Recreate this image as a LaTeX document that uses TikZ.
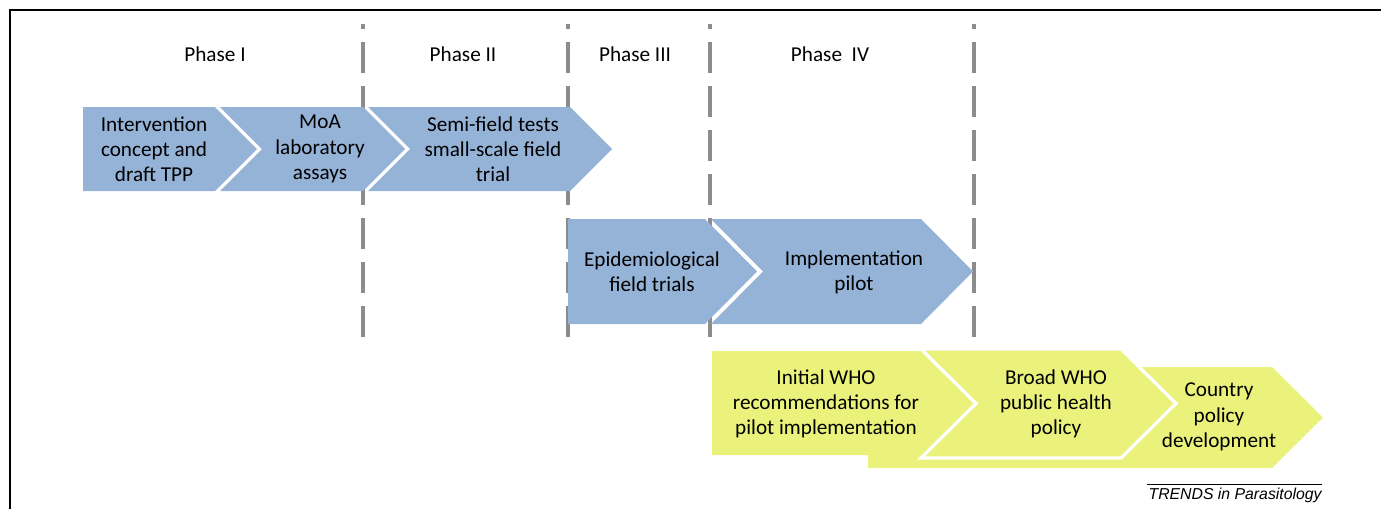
\documentclass[tikz,border=0pt]{standalone}
\usepackage{fontspec}
\setmainfont{Carlito}
\newfontfamily\trendsfont{Liberation Sans}
\definecolor{chevblue}{RGB}{149,179,215}
\definecolor{chevyellow}{RGB}{235,242,124}
\definecolor{phasegray}{RGB}{140,140,140}
\begin{document}
\begin{tikzpicture}[x=0.5pt,y=-0.5pt,
  bluebox/.style={fill=chevblue},
  yellowbox/.style={fill=chevyellow},
  phaseline/.style={draw=phasegray,line width=2pt,dash pattern=on 15.5pt off 6.5pt},
  label/.style={align=center,inner sep=0pt,font=\fontsize{10.6}{12.6}\selectfont},
  phaselabel/.style={inner sep=0pt,font=\fontsize{10.6}{12.6}\selectfont}]
\useasboundingbox (0,0) rectangle (1381,509);
% frame
\draw[line width=1pt] (10,509) -- (10,10) -- (1381,10);
% phase separators (drawn from bottom up)
\foreach \x in {363,568,710,974}
  \draw[phaseline] (\x,337) -- (\x,24);
% phase labels
\node[phaselabel] (p1) at (215,54) {Phase I};
\node[phaselabel] (p2) at (463,54) {Phase II};
\node[phaselabel] (p3) at (635,54) {Phase III};
\node[phaselabel] (p4) at (830,54) {Phase\ \ IV};
% row 1
\fill[bluebox] (83,107) -- (215,107) -- (257,149) -- (215,191) -- (83,191) -- cycle;
\fill[bluebox] (220,107) -- (363,107) -- (405,149) -- (363,191) -- (220,191) -- (262,149) -- cycle;
\fill[bluebox] (368,107) -- (570,107) -- (612,149) -- (570,191) -- (368,191) -- (410,149) -- cycle;
\node[label] (t1) at (154,149) {Intervention\\concept and\\draft TPP};
\node[label] (t2) at (320,149) {MoA\\laboratory\\assays};
\node[label] (t3) at (493,149) {Semi-field tests\\small-scale field\\trial};
% row 2
\fill[bluebox] (568,219) -- (705,219) -- (757,271.5) -- (705,324) -- (568,324) -- cycle;
\fill[bluebox] (711,219) -- (921,219) -- (973,271.5) -- (921,324) -- (711,324) -- (763,271.5) -- cycle;
\node[label] (t4) at (652,272) {Epidemiological\\field trials};
\node[label] (t5) at (854,272) {Implementation\\pilot};
% row 3
\fill[yellowbox] (868,367) -- (1272,367) -- (1323,417.5) -- (1272,468) -- (868,468) -- cycle;
\fill[yellowbox] (712,351) -- (923,351) -- (975,403) -- (923,455) -- (712,455) -- cycle;
\filldraw[yellowbox,draw=white,line width=1.6pt,line join=miter] (921,349) -- (1121,349) -- (1176,403.5) -- (1121,458) -- (921,458) -- (976,403.5) -- cycle;
\node[label] (t6) at (826,404) {Initial WHO\\recommendations for\\pilot implementation};
\node[label] (t7) at (1056,404) {Broad WHO\\public health\\policy};
\node[label] (t8) at (1219,417) {Country\\policy\\development};
% source
\coordinate (sl) at (1147,484);
\coordinate (sr) at (1322,484);
\draw[line width=0.5pt] (sl) -- (sr);
\node[inner sep=0pt,font=\trendsfont\itshape\fontsize{7.9}{9}\selectfont,anchor=north east] (src) at (1322,488) {TRENDS in Parasitology};
\end{tikzpicture}
\end{document}
